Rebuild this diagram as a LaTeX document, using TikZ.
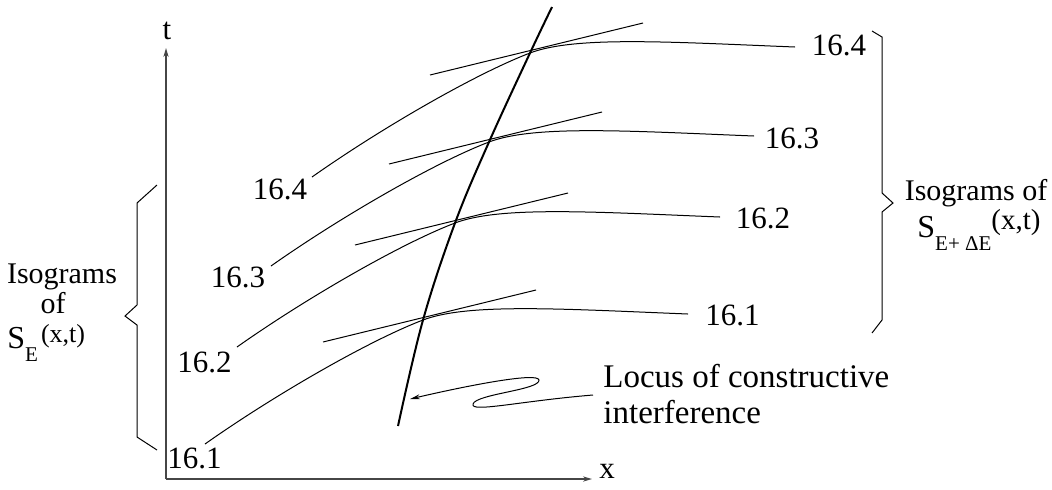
\documentclass[tikz,border=0pt]{standalone}
\usepackage{fontspec}
\setmainfont{Liberation Serif}
\usetikzlibrary{arrows.meta}
\begin{document}
\begin{tikzpicture}[x=0.5pt,y=-0.5pt,
  iso/.style={line width=0.5pt,black},
  locus/.style={line width=1pt,black},
  axis/.style={line width=0.75pt,gray!55!black,-{Stealth[length=4.5pt,width=2.6pt]}},
  lbl/.style={font=\fontsize{15.5}{18}\selectfont,inner sep=0pt,anchor=base},
  txt/.style={font=\fontsize{15}{18}\selectfont,inner sep=0pt,anchor=base},
  loctxt/.style={font=\fontsize{16.5}{18}\selectfont,inner sep=0pt,anchor=base west}]
\useasboundingbox (0,0) rectangle (1052,489);
% axes
\coordinate (O) at (166,479);
\coordinate (tt) at (166,48);
\coordinate (xx) at (592,479);
\draw[axis] (O) -- (tt);
\draw[axis] (O) -- (xx);
\node[lbl] (tl) at (167,39) {t};
\node[lbl] (xl) at (607,478) {x};
% intersection points
\coordinate (P1) at (423,320);
\coordinate (P2) at (455,223);
\coordinate (P3) at (489,142);
\coordinate (P4) at (530,53);
\foreach \p in {P1,P2,P3,P4} {
  \draw[iso, shift={(\p)}] (-218,124) .. controls (-150,76) and (-55,21) .. (0,0)
     .. controls (45,-17.2) and (140,-11) .. (265,-6);
  \draw[iso, shift={(\p)}] (-100,22) -- (113,-30);
}
% locus
\coordinate (lb) at (398,426);
\coordinate (lt) at (552,7);
\draw[locus] plot[smooth, tension=0.6] coordinates {(lb) (P1) (P2) (P3) (P4) (lt)};
% left labels
\node[lbl] (a1) at (194.5,468) {16.1};
\node[lbl] (a2) at (204.5,372) {16.2};
\node[lbl] (a3) at (238,287) {16.3};
\node[lbl] (a4) at (280,199) {16.4};
% right labels
\node[lbl] (b1) at (732.5,325) {16.1};
\node[lbl] (b2) at (763,228) {16.2};
\node[lbl] (b3) at (792,148) {16.3};
\node[lbl] (b4) at (839,55) {16.4};
% braces
\draw[iso] (157,185) -- (137,203) -- (137,305) -- (125,316) -- (137,325) -- (137,437) -- (157,450);
\draw[iso] (872,31) -- (882,37) -- (882,193) -- (893,203) -- (882,212) -- (882,320) -- (872,333);
% left brace text
\node[txt] (li1) at (62,283) {Isograms};
\node[txt] (li2) at (53,313) {of};
\node[inner sep=0pt,anchor=base west] (li3) at (7,348)
  {\fontsize{16}{18}\selectfont S\raisebox{-6.5pt}{\fontsize{10.5}{12}\selectfont E}\hspace{1.5pt}\raisebox{3pt}{\fontsize{13}{15}\selectfont (x,t)}};
% right brace text
\node[txt] (ri1) at (976,200) {Isograms of};
\node[inner sep=0pt,anchor=base west] (ri2) at (917,237)
  {\fontsize{16}{18}\selectfont S\raisebox{-6.5pt}{\fontsize{10.5}{12}\selectfont E+ ΔE}\raisebox{4pt}{\fontsize{14.5}{16}\selectfont (x,t)}};
% locus text and arrow
\node[loctxt] (loc1) at (603,387) {Locus of constructive};
\node[loctxt] (loc2) at (603,423) {interference};
\coordinate (as) at (593,395);
\coordinate (ae) at (410,399);
\draw[iso,-{Stealth[length=5pt,width=2.4pt]}] (as) .. controls (520,401) and (470,413) .. (473,404)
  .. controls (476,394) and (540,390) .. (539,380)
  .. controls (538,372) and (470,385) .. (ae);
\end{tikzpicture}
\end{document}
